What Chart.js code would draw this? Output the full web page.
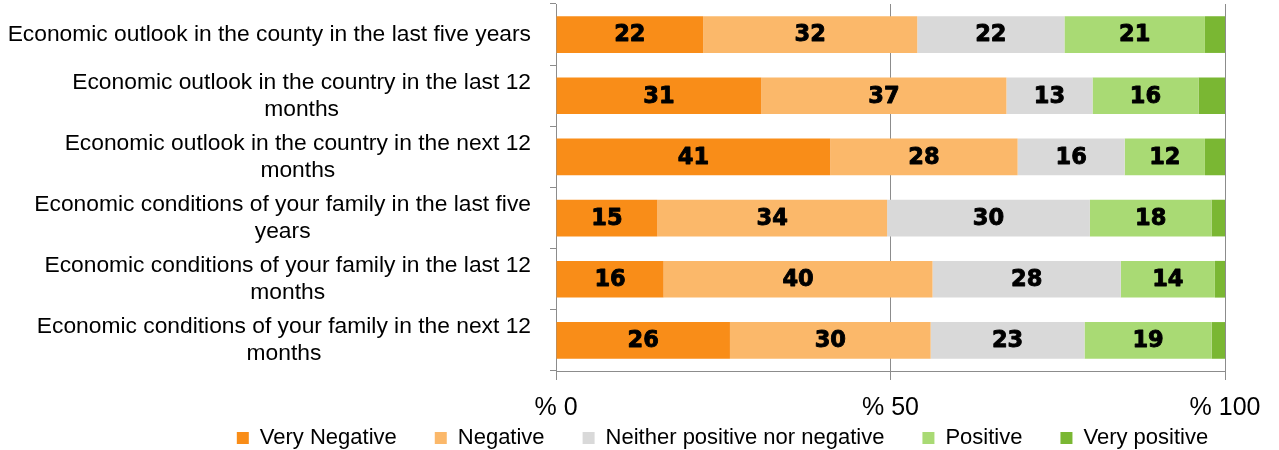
<!DOCTYPE html>
<html><head><meta charset="utf-8">
<script src="https://cdn.jsdelivr.net/npm/chart.js@4"></script>
<style>html,body{margin:0;padding:0;background:#fff}#wrap{width:1279px;height:450px}</style>
</head><body><div id="wrap"><canvas id="c" width="1279" height="450"></canvas></div>
<script>
const categories = [
  ["Economic outlook in the county in the last five years"],
  ["Economic outlook in the country in the last 12", "months"],
  ["Economic outlook in the country in the next 12", "months"],
  ["Economic conditions of your family in the last five", "years"],
  ["Economic conditions of your family in the last 12", "months"],
  ["Economic conditions of your family in the next 12", "months"]
];
const seriesNames = ["Very Negative", "Negative", "Neither positive nor negative", "Positive", "Very positive"];
const veryNegative = [22, 31, 41, 15, 16, 26];
const negative     = [32, 37, 28, 34, 40, 30];
const neither      = [22, 13, 16, 30, 28, 23];
const positive     = [21, 16, 12, 18, 14, 19];
const veryPositive = [3, 4, 3, 2, 1.5, 2];
const xTicks = [0, 50, 100];

const seriesColors = ["#F98D18", "#FBB86A", "#D9D9D9", "#A9DA74", "#7AB733"];
const labelledSeries = [true, true, true, true, false];
const rawSeries = [veryNegative, negative, neither, positive, veryPositive];
const totals = categories.map((_, i) => rawSeries.reduce((s, a) => s + a[i], 0));

const FONT = '"Liberation Sans", Arial, sans-serif';
const AXIS = '#8C8C8C';

const axisLabelPlugin = {
  id: 'axisLabels',
  afterDraw(chart) {
    const ctx = chart.ctx, ys = chart.scales.y, xs = chart.scales.x;
    ctx.save();
    ctx.fillStyle = '#000';
    ctx.textBaseline = 'middle';
    // category labels: block right-aligned, lines centred within block
    ctx.font = '22.8px ' + FONT;
    ctx.textAlign = 'center';
    const right = ys.right - 25;
    const lh = 27;
    categories.forEach((lines, i) => {
      const y = ys.getPixelForValue(i);
      const w = Math.max(...lines.map(l => ctx.measureText(l).width));
      const cx = right - w / 2;
      lines.forEach((l, j) => ctx.fillText(l, cx, y + (j - (lines.length - 1) / 2) * lh));
    });
    // x tick labels
    ctx.font = '25px ' + FONT;
    xTicks.forEach(v => {
      ctx.fillText('% ' + v, xs.getPixelForValue(v), xs.top + 37);
    });
    ctx.restore();
  }
};

const valuePlugin = {
  id: 'values',
  afterDatasetsDraw(chart) {
    const ctx = chart.ctx;
    ctx.save();
    ctx.font = 'bold 22.5px "DejaVu Sans", sans-serif';
    ctx.fillStyle = '#000';
    ctx.strokeStyle = '#000';
    ctx.lineWidth = 0.9;
    ctx.lineJoin = 'round';
    ctx.textAlign = 'center';
    ctx.textBaseline = 'middle';
    rawSeries.forEach((arr, d) => {
      if (!labelledSeries[d]) return;
      chart.getDatasetMeta(d).data.forEach((el, i) => {
        const x = (el.x + el.base) / 2, y = el.y + 1;
        ctx.fillText(String(arr[i]), x, y);
        ctx.strokeText(String(arr[i]), x, y);
      });
    });
    ctx.restore();
  }
};

new Chart(document.getElementById('c'), {
  type: 'bar',
  data: {
    labels: categories,
    datasets: rawSeries.map((arr, d) => ({
      label: seriesNames[d],
      data: arr.map((v, i) => v / totals[i] * 100),
      backgroundColor: seriesColors[d],
      borderWidth: 0,
      barPercentage: 0.6,
      categoryPercentage: 1.0
    }))
  },
  options: {
    indexAxis: 'y',
    responsive: false,
    animation: false,
    events: [],
    layout: { padding: { left: 177, right: 11, top: 4, bottom: 0 } },
    plugins: {
      tooltip: { enabled: false },
      legend: {
        position: 'bottom',
        maxHeight: 61,
        labels: {
          font: { family: FONT, size: 22 },
          color: '#000',
          boxWidth: 12,
          boxHeight: 12,
          padding: 38
        }
      }
    },
    scales: {
      x: {
        stacked: true,
        min: 0,
        max: 100,
        afterBuildTicks: s => { s.ticks = xTicks.map(v => ({ value: v })); },
        ticks: { display: false },
        grid: { color: AXIS, lineWidth: 1, tickLength: 9, drawTicks: true },
        border: { color: AXIS, width: 1 },
        afterFit: s => { s.height = 18; s.paddingRight = 54; s.paddingLeft = 0; }
      },
      y: {
        stacked: true,
        ticks: { display: false },
        grid: { drawOnChartArea: false, tickLength: 6, color: AXIS, offset: true },
        border: { color: AXIS, width: 1 },
        afterFit: s => { s.width = 556 - 177; }
      }
    }
  },
  plugins: [axisLabelPlugin, valuePlugin]
});
</script>
</body></html>
